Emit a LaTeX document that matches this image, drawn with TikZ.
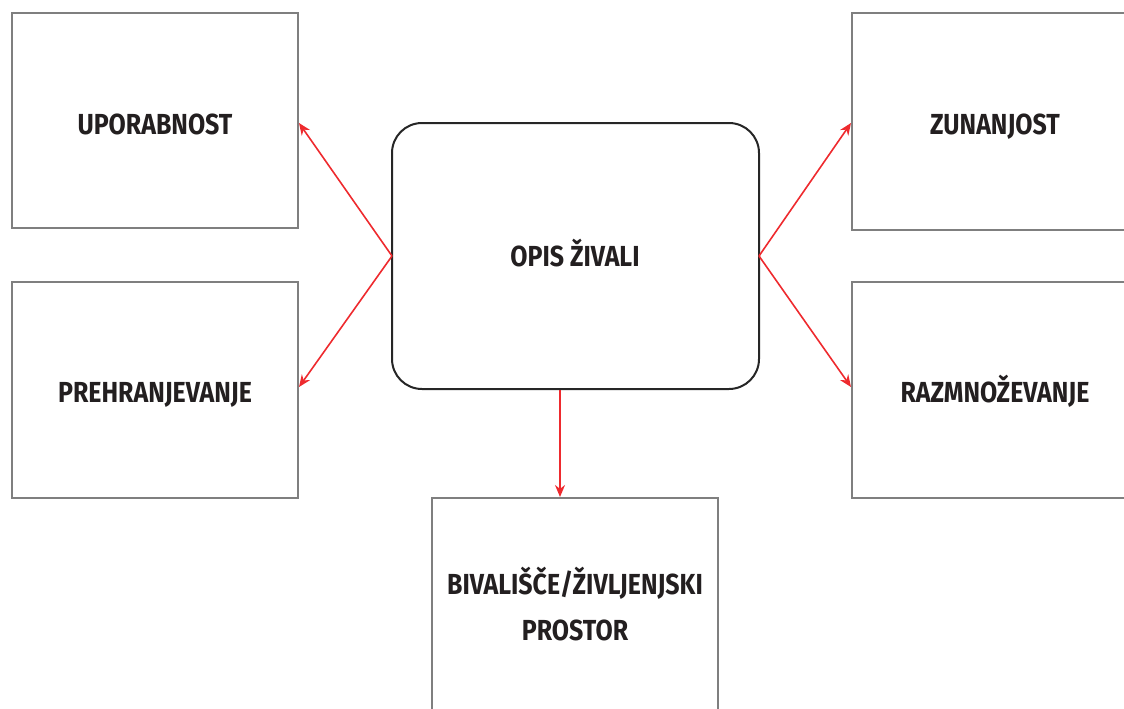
\documentclass[tikz,border=0pt]{standalone}
\usepackage{fontspec}
\setmainfont{Fira Sans}[UprightFont=* Bold, FakeStretch=0.86]
\usetikzlibrary{arrows.meta}
\definecolor{boxgray}{HTML}{7F7F7F}
\definecolor{arrred}{HTML}{EE2A2E}
\definecolor{txt}{HTML}{231F20}
\tikzset{
  plainbox/.style={draw=boxgray, line width=1.5pt, fill=white},
  lbl/.style={font=\fontsize{29}{46}\selectfont, text=txt, align=center, inner sep=0pt, anchor=base},
  arr/.style={draw=arrred, line width=1.6pt, -{Stealth[length=12pt,width=10pt]}}
}
\begin{document}
\begin{tikzpicture}[x=1pt,y=-1pt]
\useasboundingbox (0,0) rectangle (1124,709);
\clip (0,0) rectangle (1124,709);
% boxes
\draw[plainbox] (12,13) rectangle (298,228);
\coordinate (upR) at (299,123);
\draw[plainbox] (12,282) rectangle (298,498);
\coordinate (prR) at (299,387);
\draw[plainbox] (852,13) rectangle (1140,230);
\coordinate (zuL) at (851,123);
\draw[plainbox] (852,282) rectangle (1140,498);
\coordinate (raL) at (851,387);
\draw[plainbox] (432,498) rectangle (718,725);
\coordinate (biT) at (560,497);
% center
\draw[draw=black!85, line width=2pt, rounded corners=30pt] (392,123) rectangle (759,389);
\coordinate (cL) at (392,256);
\coordinate (cR) at (759,256);
\coordinate (cB) at (560,390);
% labels
\node[lbl] (up) at (155,134) {UPORABNOST};
\node[lbl] (pr) at (155,402) {PREHRANJEVANJE};
\node[lbl] (zu) at (995,134) {ZUNANJOST};
\node[lbl] (ra) at (995,402) {RAZMNOŽEVANJE};
\node[lbl] (op) at (575,266) {OPIS ŽIVALI};
\node[lbl] (bi) at (575,640) {BIVALIŠČE/ŽIVLJENJSKI\\PROSTOR};
% arrows
\draw[arr] (cL) -- (upR);
\draw[arr] (cL) -- (prR);
\draw[arr] (cR) -- (zuL);
\draw[arr] (cR) -- (raL);
\draw[arr] (cB) -- (biT);
\end{tikzpicture}
\end{document}
